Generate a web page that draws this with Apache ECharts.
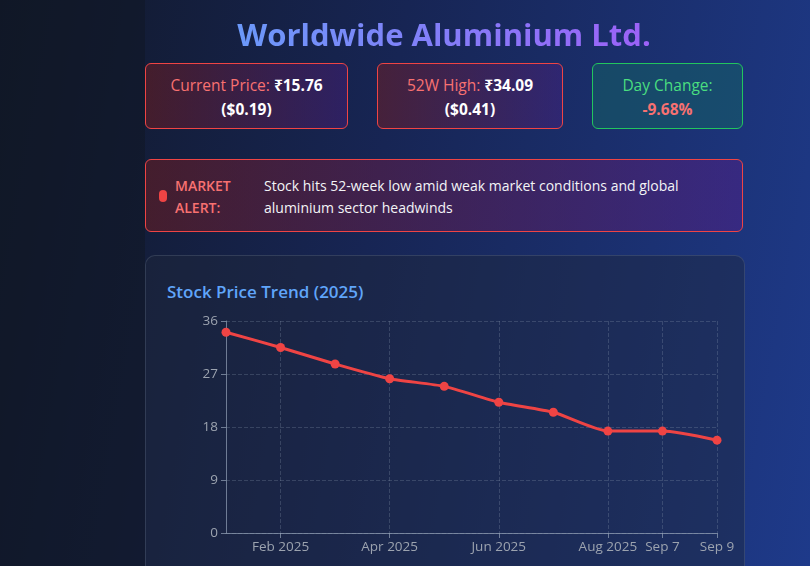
<!DOCTYPE html>
<html>
<head>
<meta charset="utf-8">
<script src="https://cdn.jsdelivr.net/npm/echarts@6/dist/echarts.min.js"></script>
<style>
body { margin:0; width:810px; height:566px; overflow:hidden; font-family:"Open Sans","Noto Sans",sans-serif;
  background: linear-gradient(100deg,#111827 0%,#172554 45%,#1e3a8a 100%); }
.side { position:absolute; left:0; top:0; width:145px; height:566px; background:#111827; opacity:.6; }
h1 { position:absolute; left:145px; width:598px; top:13px; margin:0; text-align:center; font-size:31px; font-weight:700;
  background:linear-gradient(90deg,#60a5fa,#a855f7); -webkit-background-clip:text; color:transparent; }
.box { position:absolute; top:63px; height:66px; border-radius:6px; text-align:center; font-size:15.5px; line-height:24px; padding-top:9px; box-sizing:border-box; }
.red { border:1px solid #ef4444; background:linear-gradient(90deg,rgba(127,29,29,.45),rgba(88,28,135,.35)); color:#f87171; }
.green { border:1px solid #22c55e; background:rgba(20,100,100,.5); color:#4ade80; }
b { color:#fff; }
.alert { position:absolute; left:145px; top:159px; width:598px; height:73px; border:1px solid #ef4444; border-radius:6px; box-sizing:border-box;
  background:linear-gradient(90deg,rgba(127,29,29,.45),rgba(88,28,135,.45)); }
.dot { position:absolute; left:13px; top:30px; width:8px; height:12px; border-radius:4px; background:#ef4444; }
.lab { position:absolute; left:29px; top:15px; color:#f87171; font-weight:600; font-size:14px; line-height:22px; }
.msg { position:absolute; left:118px; top:15px; width:440px; color:#f3f4f6; font-size:14px; line-height:22px; }
.card { position:absolute; left:145px; top:255px; width:598px; height:340px; border:1px solid rgba(148,163,184,.2); border-radius:10px; background:rgba(30,41,59,.45); }
.card h2 { position:absolute; left:21px; top:24px; margin:0; font-size:17px; font-weight:600; color:#60a5fa; }
#chart { position:absolute; left:0; top:50px; width:598px; height:260px; }
</style>
</head>
<body>
<div class="side"></div>
<h1>Worldwide Aluminium Ltd.</h1>
<div class="box red" style="left:145px;width:203px">Current Price: <b>₹15.76</b><br><b>($0.19)</b></div>
<div class="box red" style="left:377px;width:186px">52W High: <b>₹34.09</b><br><b>($0.41)</b></div>
<div class="box green" style="left:592px;width:151px">Day Change:<br><b style="color:#f87171">-9.68%</b></div>
<div class="alert"><div class="dot"></div><div class="lab">MARKET<br>ALERT:</div>
<div class="msg">Stock hits 52-week low amid weak market conditions and global aluminium sector headwinds</div></div>
<div class="card"><h2>Stock Price Trend (2025)</h2><div id="chart"></div></div>
<script>
var months = ['Jan 2025', 'Feb 2025', 'Mar 2025', 'Apr 2025', 'May 2025', 'Jun 2025', 'Jul 2025', 'Aug 2025', 'Sep 7', 'Sep 9'];
var prices = [34.09, 31.5, 28.7, 26.2, 24.9, 22.2, 20.5, 17.3, 17.3, 15.76];
var shown_idx = [1, 3, 5, 7, 8, 9];

var chart = echarts.init(document.getElementById('chart'));
var axis_color = 'rgba(148,163,184,0.7)';
var label_style = {color: '#9ca3af', fontSize: 13.5, fontFamily: 'Open Sans'};
var pick = function (i) { return shown_idx.indexOf(i) >= 0; };
chart.setOption({
    grid: {left: 80, right: 27, top: 15, bottom: 33},
    xAxis: {
        type: 'category',
        data: months,
        boundaryGap: false,
        axisLine: {lineStyle: {color: axis_color}},
        axisTick: {interval: pick, lineStyle: {color: axis_color}},
        axisLabel: Object.assign({interval: pick, margin: 7}, label_style),
        splitLine: {show: true, interval: pick, lineStyle: {color: 'rgba(148,163,184,0.25)', type: 'dashed'}}
    },
    yAxis: {
        type: 'value',
        min: 0, max: 36, interval: 9,
        axisLine: {show: true, lineStyle: {color: axis_color}},
        axisTick: {show: true, length: 5, lineStyle: {color: axis_color}},
        axisLabel: Object.assign({margin: 8}, label_style),
        splitLine: {lineStyle: {color: 'rgba(148,163,184,0.25)', type: 'dashed'}}
    },
    series: [{
        type: 'line',
        data: prices,
        smooth: 0.2,
        symbol: 'circle',
        symbolSize: 9,
        lineStyle: {color: '#ef4444', width: 3},
        itemStyle: {color: '#ef4444'}
    }]
});
</script>
</body>
</html>
